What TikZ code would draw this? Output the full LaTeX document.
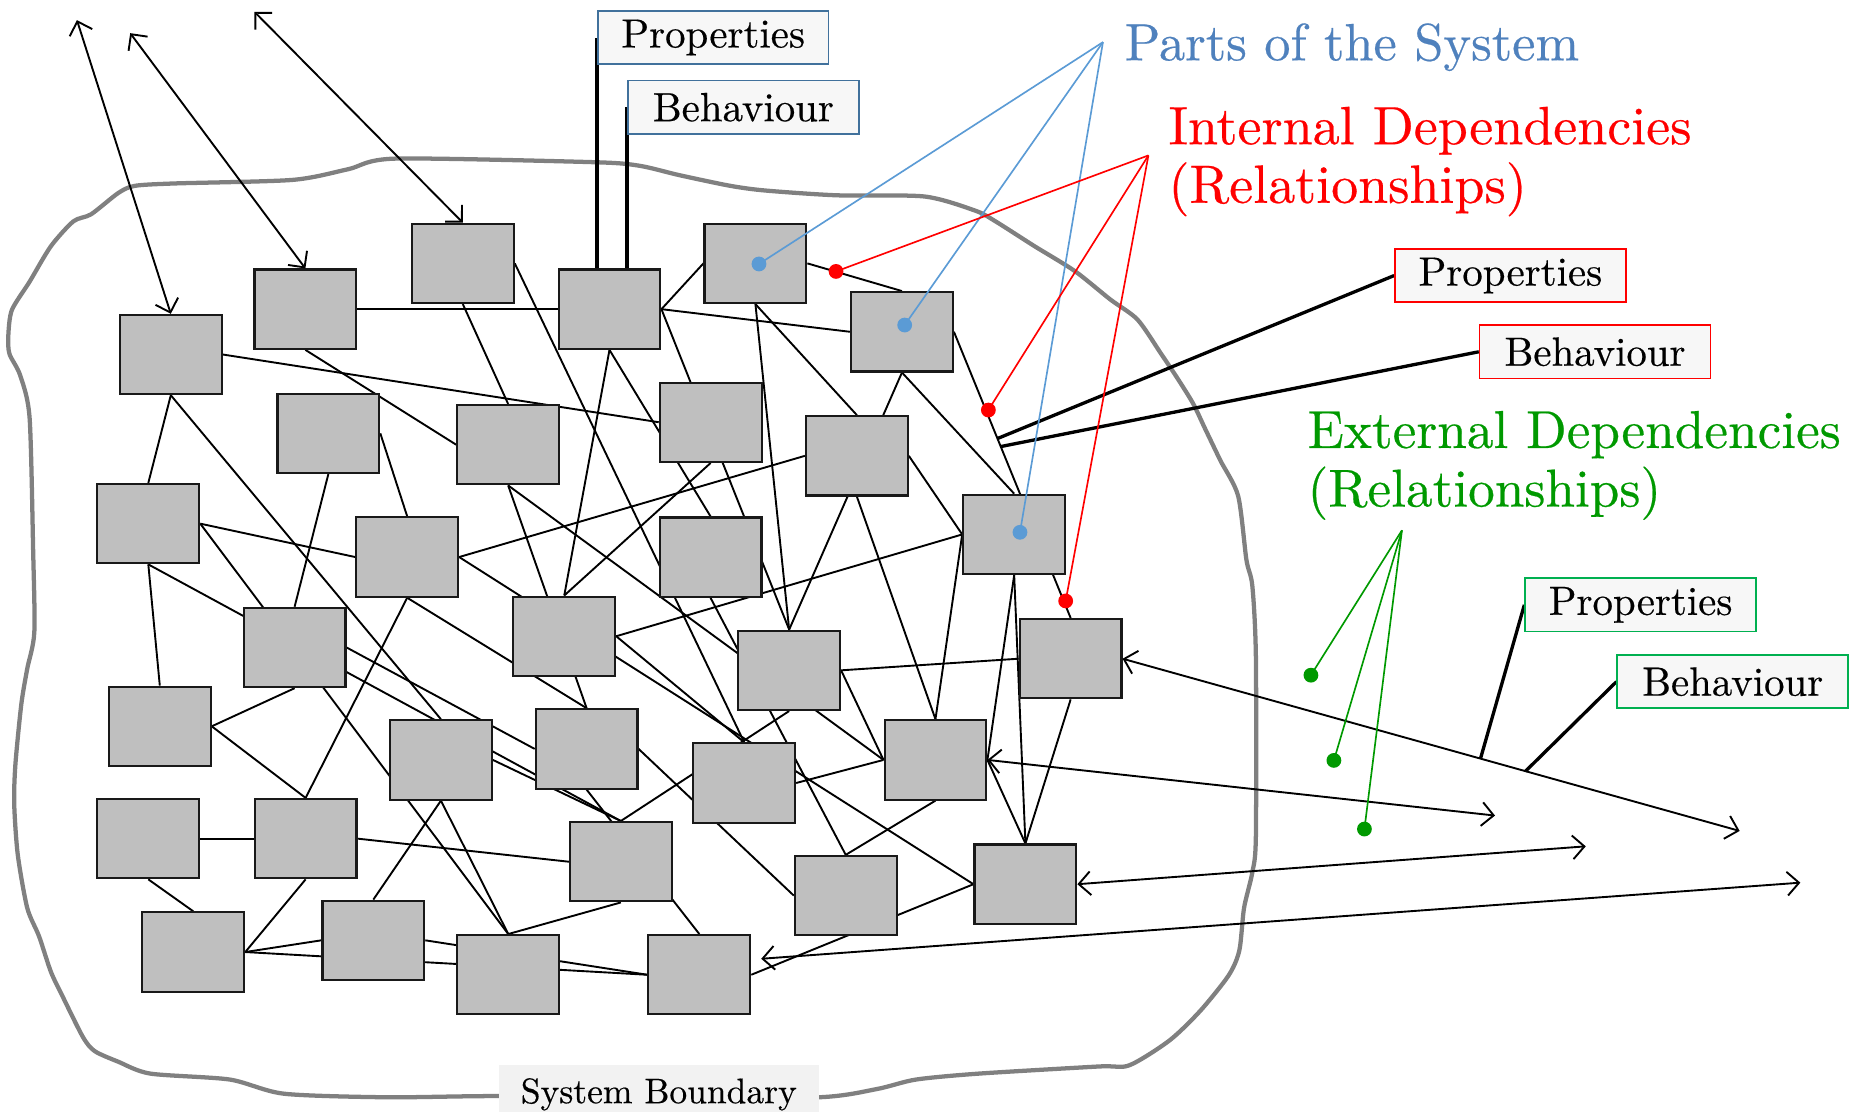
\documentclass[tikz,border=0pt]{standalone}
\usepackage{fontspec}
\setmainfont{lmroman10-regular.otf}[FakeBold=0.4]
\usetikzlibrary{arrows.meta,calc}
\definecolor{partgray}{HTML}{BFBFBF}
\definecolor{partsblue}{HTML}{4F81BD}
\definecolor{dotblue}{HTML}{5B9BD5}
\definecolor{frameblue}{HTML}{41719C}
\definecolor{extgreen}{HTML}{009900}
\definecolor{framegreen}{HTML}{00B050}
\definecolor{tagfill}{HTML}{F7F7F7}
\definecolor{edgegray}{HTML}{808080}
\definecolor{labelfill}{HTML}{F2F2F2}
\newcommand\TagFont{\fontsize{34.5}{40}\selectfont}
\newcommand\HeadFont{\fontsize{45}{49.5}\selectfont}
\newcommand\EdgeFont{\fontsize{30}{34}\selectfont}
\pgfdeclarelayer{back}
\pgfsetlayers{back,main}
\tikzset{openbarb/.tip={Straight Barb[length=10pt,width=20pt]}}
\begin{document}
\begin{tikzpicture}[x=1pt,y=-1pt,
  part/.style={draw=black!90,line width=1.8pt,fill=partgray,minimum width=86pt,minimum height=67pt,inner sep=0pt},
  link/.style={line width=1.6pt},
  outlink/.style={line width=1.6pt,{openbarb}-{openbarb}},
  tag/.style={fill=tagfill,line width=1.4pt,minimum width=195pt,minimum height=45pt,inner sep=0pt,font=\TagFont},
  leader/.style={line width=2.8pt},
  dot/.style={circle,inner sep=0pt,minimum size=12.5pt},
  callout/.style={line width=1.4pt},
  head/.style={font=\HeadFont,align=left,inner sep=0pt,anchor=north west},
]
\useasboundingbox (0,0) rectangle (1568,939);

% parts of the system
\foreach \n/\x/\y in {
  B1/144.3/299.5, B2/258/261.2, B3/391/222.5, B4/514.9/261.2,
  B5/638.2/222.5, B6/762/280.3, B7/277.4/366.1, B8/429.3/375.7,
  B9/600.4/356.7, B10/723.9/385.1, B11/125.3/442.4, B12/344/470.6,
  B13/600.3/470.7, B14/856.8/451.5, B15/248.9/547, B16/476.7/537.5,
  B17/666.7/566.3, B18/904.5/556.5, B19/135/613.6, B20/495.6/632.7,
  B21/372.5/642, B22/628.7/661.5, B23/790.3/642, B24/125.3/708.5,
  B25/258.2/708.5, B26/524.5/728, B27/866.3/747, B28/714.5/756.6,
  B29/163.3/804.3, B30/315.4/794.4, B31/429.4/823.5, B32/590.8/823.5}
  \node[part] (\n) at (\x,\y) {};

% property / behaviour tags
\node[tag,draw=frameblue] (tp1) at (602.5,31.7) {Properties};
\node[tag,draw=frameblue] (tb1) at (628,90.6) {Behaviour};
\node[tag,draw=red] (tp2) at (1276,232.8) {Properties};
\node[tag,draw=red] (tb2) at (1347.5,297.2) {Behaviour};
\node[tag,draw=framegreen] (tp3) at (1386,511) {Properties};
\node[tag,draw=framegreen] (tb3) at (1463.8,575.9) {Behaviour};

% free ends of the external dependencies
\coordinate (x1) at (65,17);
\coordinate (x2) at (110,28);
\coordinate (x3) at (215,10);
\coordinate (x18) at (1469.7,702);
\coordinate (x23) at (1263,689);
\coordinate (x27) at (1339.7,715);
\coordinate (x32) at (1521,745.7);
\coordinate (n32) at ($(B32.east)+(8.4,-13.5)$);

\begin{pgfonlayer}{back}
% hand-drawn system boundary
\draw[edgegray,line width=3.6pt,line join=round] plot[smooth cycle,tension=0.45] coordinates {
 (10,262) (25,238) (43,208) (62,187) (77,181) (100,163) (114,157) (147,155)
 (247,152) (294,143) (334,134) (501,137) (540,140) (574,148) (617,157)
 (647,161) (707,165) (781,166) (824,178) (841,187) (874,208) (908,229)
 (938,253) (961,270) (981,299) (995,320) (1008,341) (1018,362) (1031,389)
 (1046,419) (1053,473) (1058,495) (1061,555) (1061,706) (1058,737)
 (1051,767) (1047,803) (1038,824) (1014,854) (988,879) (954,900)
 (928,901) (827,907) (774,912) (741,920) (692,927) (556,928) (421,926)
 (327,927) (240,924) (194,912) (127,907) (100,897) (80,888) (70,876)
 (53,842) (43,821) (33,791) (23,767) (15,722) (12,679) (13,646) (18,595)
 (23,565) (29,534) (28,465) (25,353) (17,317) (8,299) (7,284)};

% internal dependencies
\foreach \a/\b in {
  B2.east/B4.west, B1.east/B9.west, B2.south/B8.west, B3.south/B8.north,
  B3.east/B22.north, B4.east/B5.west, B4.east/B6.west, B4.east/B17.north,
  B4.south/B16.north, B4.south/B13.north, B5.south/B10.north,
  B5.south/B17.north, B5.east/B6.north, B6.south/B14.north,
  B6.south/B17.north, B6.east/B18.north, B1.south/B11.north,
  B1.south/B21.north, B7.south/B15.north, B7.east/B12.north,
  B8.south/B20.north, B8.south/B23.west, B9.south/B16.north,
  B10.east/B14.west, B10.south/B23.north, B11.east/B12.west,
  B11.east/B31.north, B11.south/B19.north, B11.south/B26.north,
  B12.east/B10.west, B12.east/B27.west, B12.south/B25.north,
  B12.south/B20.north, B13.south/B28.north, B14.west/B16.east,
  B14.west/B23.north, B14.south/B23.east, B14.south/B27.north,
  B15.east/B20.west, B15.south/B19.east, B16.east/B22.north,
  B17.east/B18.west, B17.east/B23.west, B17.south/B26.north,
  B18.south/B27.north, B19.east/B25.north, B20.east/B28.west,
  B20.south/B32.north, B21.south/B30.north,
  B21.south/B31.north, B21.east/B26.north, B22.east/B23.west,
  B23.east/B27.north, B23.south/B28.north, B24.east/B25.west,
  B24.south/B29.north, B25.east/B26.west, B25.south/B29.east,
  B26.south/B31.north, B27.west/B32.east, B29.east/B30.west,
  B29.east/B32.west, B30.east/B32.west}
  \draw[link] (\a) -- (\b);

% tag leaders
\draw[leader] (tp1.west) -- (tp1.west |- B4.north);
\draw[leader] (tb1.west) -- (tb1.west |- B4.north);
\draw[leader] (tp2.west) -- ($(B6.east)!0.373!(B18.north)$);
\draw[leader] (tb2.west) -- ($(B6.east)!0.401!(B18.north)$);
\draw[leader] (tp3.west) -- ($(B18.east)!0.58!(x18)$);
\draw[leader] (tb3.west) -- ($(B18.east)!0.653!(x18)$);
\end{pgfonlayer}

% external dependencies
\draw[outlink] (B1.north) -- (x1);
\draw[outlink] (B2.north) -- (x2);
\draw[outlink] (B3.north) -- (x3);
\draw[outlink] (B18.east) -- (x18);
\draw[outlink] (B23.east) -- (x23);
\draw[outlink] (B27.east) -- (x27);
\draw[outlink] (n32) -- (x32);

% legend texts
\node[head,text=partsblue,font=\fontsize{44.3}{49.5}\selectfont] (lp) at (950,19.5) {Parts of the System};
\node[head,text=red,font=\fontsize{45.6}{49.5}\selectfont] (li) at (987,90) {Internal Dependencies\\(Relationships)};
\node[head,text=extgreen] (le) at (1104.5,347) {External Dependencies\\(Relationships)};

% legend pointers
\coordinate (cp) at (931.8,35.6);
\coordinate (ci) at (970.2,131.3);
\coordinate (ce) at (1184.4,448);
\node[dot,fill=dotblue] (d1) at (641.2,223) {};
\node[dot,fill=dotblue] (d2) at (764.3,274.6) {};
\node[dot,fill=dotblue] (d3) at (861.7,449.7) {};
\node[dot,fill=red] (r1) at (706.3,229.3) {};
\node[dot,fill=red] (r2) at (835,346.4) {};
\node[dot,fill=red] (r3) at (900.3,507.7) {};
\node[dot,fill=extgreen] (g1) at (1107.5,570.4) {};
\node[dot,fill=extgreen] (g2) at (1126.9,642.4) {};
\node[dot,fill=extgreen] (g3) at (1152.7,700.4) {};
\foreach \d in {d1,d2,d3} \draw[callout,dotblue] (cp) -- (\d.center);
\foreach \d in {r1,r2,r3} \draw[callout,red] (ci) -- (\d.center);
\foreach \d in {g1,g2,g3} \draw[callout,extgreen] (ce) -- (\d.center);

% boundary caption
\node[fill=labelfill,minimum width=270pt,minimum height=50pt,inner sep=0pt,font=\EdgeFont] (sb) at (556.6,924.5) {System Boundary};
\end{tikzpicture}
\end{document}
